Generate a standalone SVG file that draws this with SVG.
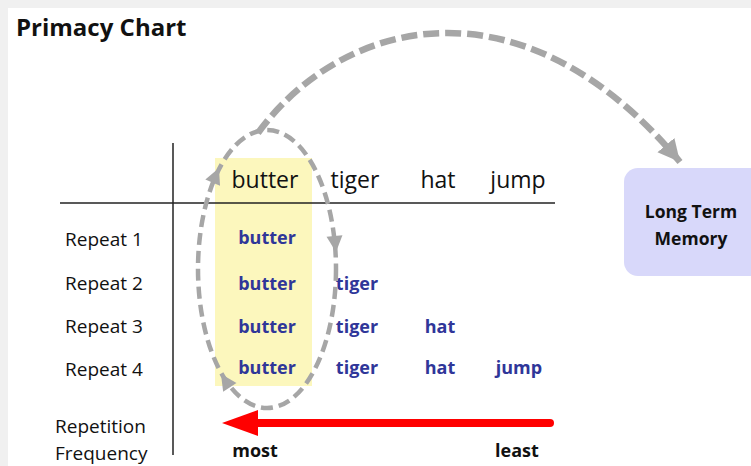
<svg xmlns="http://www.w3.org/2000/svg" width="751" height="466" viewBox="0 0 751 466">
<style>
text{font-family:"Open Sans","Noto Sans","Liberation Sans",sans-serif;fill:#111}
.hdr{font-size:23px;text-anchor:middle}
.row{font-size:19px}
.cell{font-size:18px;font-weight:bold;fill:#2f3699;text-anchor:middle}
.bold{font-weight:bold}
.dash{fill:none;stroke:#a6a6a6}
</style>
<defs>
<marker id="bigHead" markerUnits="userSpaceOnUse" markerWidth="26" markerHeight="26" refX="22" refY="11" orient="auto">
<path d="M0,0 L22,11 L0,22 Z" fill="#a6a6a6"/>
</marker>
<polygon id="sh" points="0,0 -16,-8 -16,8" fill="#a6a6a6"/>
</defs>
<rect width="751" height="466" fill="#f0f0f0"/>
<rect x="8" y="8" width="743" height="458" fill="#ffffff"/>
<text x="16" y="36" class="bold" style="font-size:24px">Primacy Chart</text>

<g id="highlight"><rect x="215" y="158" width="97" height="228" fill="#fcf7bd"/></g>

<g id="axes">
<line x1="173" y1="143" x2="173" y2="455" stroke="#222" stroke-width="1.5"/>
<line x1="60" y1="203" x2="555" y2="203" stroke="#222" stroke-width="1.5"/>
</g>

<g id="headers">
<text class="hdr" x="265" y="188">butter</text>
<text class="hdr" x="355" y="188">tiger</text>
<text class="hdr" x="438" y="188">hat</text>
<text class="hdr" x="518" y="188">jump</text>
</g>

<g id="rowlabels">
<text class="row" x="65" y="246">Repeat 1</text>
<text class="row" x="65" y="290">Repeat 2</text>
<text class="row" x="65" y="333">Repeat 3</text>
<text class="row" x="65" y="376">Repeat 4</text>
<text class="row" x="55" y="433">Repetition</text>
<text class="row" x="55" y="460">Frequency</text>
</g>

<g id="cells">
<text class="cell" x="267" y="244">butter</text>
<text class="cell" x="267" y="290">butter</text>
<text class="cell" x="267" y="333">butter</text>
<text class="cell" x="267" y="374">butter</text>
<text class="cell" x="357" y="290">tiger</text>
<text class="cell" x="357" y="333">tiger</text>
<text class="cell" x="357" y="374">tiger</text>
<text class="cell" x="440" y="333">hat</text>
<text class="cell" x="440" y="374">hat</text>
<text class="cell" x="519" y="374">jump</text>
</g>

<g id="freq">
<text class="bold" x="255" y="457" style="font-size:18px;text-anchor:middle">most</text>
<text class="bold" x="517" y="457" style="font-size:18px;text-anchor:middle">least</text>
</g>

<g id="ltm">
<rect x="624" y="168" width="150" height="108" rx="14" fill="#d8d8fa"/>
<text class="bold" x="691" y="218" style="font-size:17.5px;text-anchor:middle">Long Term</text>
<text class="bold" x="691" y="245" style="font-size:17.5px;text-anchor:middle">Memory</text>
</g>

<g id="connectors">
<ellipse class="dash" cx="267" cy="269" rx="69" ry="139" stroke-width="4.5" stroke-dasharray="12,6"/>
<use href="#sh" transform="translate(219,168) rotate(-66.7)"/>
<use href="#sh" transform="translate(336,252) rotate(84.6)"/>
<use href="#sh" transform="translate(221,374) rotate(-123.4)"/>
<path class="dash" d="M258,133 C340,20 520,-30 680,162" stroke-width="6.5" stroke-dasharray="16,6" marker-end="url(#bigHead)"/>
<line x1="550" y1="423" x2="255" y2="423" stroke="#ff0000" stroke-width="8" stroke-linecap="round"/>
<polygon points="222,423 258,410 258,436" fill="#ff0000"/>
</g>
</svg>
